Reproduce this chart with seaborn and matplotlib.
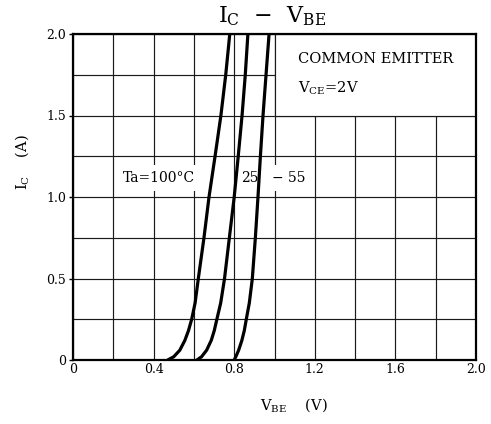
import numpy as np
import pandas as pd
import matplotlib.pyplot as plt
import matplotlib.patches as mpatches
import seaborn as sns

# Data (IC in A, VBE in V)
ic = [0, 0.02, 0.06, 0.12, 0.18, 0.25, 0.35, 0.5, 0.75, 1.0, 1.25, 1.5, 1.75, 2.0]
vbe_100 = [0.47, 0.50, 0.53, 0.555, 0.573, 0.589, 0.606, 0.622, 0.65, 0.675, 0.705, 0.734, 0.758, 0.778]
vbe_25 = [0.615, 0.638, 0.663, 0.686, 0.701, 0.714, 0.733, 0.752, 0.776, 0.80, 0.82, 0.839, 0.855, 0.868]
vbe_m55 = [0.80, 0.808, 0.822, 0.838, 0.85, 0.86, 0.875, 0.89, 0.905, 0.918, 0.93, 0.943, 0.958, 0.973]
temps = ['100', '25', '-55']

x_ticks = [0, 0.4, 0.8, 1.2, 1.6, 2.0]
x_labels = ['0', '0.4', '0.8', '1.2', '1.6', '2.0']
y_ticks = [0, 0.5, 1.0, 1.5, 2.0]
y_labels = ['0', '0.5', '1.0', '1.5', '2.0']

df = pd.DataFrame({
    'VBE': vbe_100 + vbe_25 + vbe_m55,
    'IC': ic * 3,
    'Ta': [t for t in temps for _ in ic],
})

sns.set_theme(style='white')
plt.rcParams['font.family'] = ['DejaVu Serif']
plt.rcParams['mathtext.fontset'] = 'dejavuserif'
plt.rcParams['text.color'] = 'black'

fig = plt.figure(figsize=(4.91, 4.24), dpi=100)
ax = fig.add_axes([73 / 491, 64 / 424, 403 / 491, 326 / 424])

# grid
ax.set_axisbelow(True)
ax.set_xticks(np.arange(0, 2.01, 0.2), minor=True)
ax.set_yticks(np.arange(0, 2.01, 0.25), minor=True)
ax.grid(which='both', color='#1a1a1a', linewidth=0.85)

# blank panel in the upper right
ax.add_patch(mpatches.Rectangle((1.0, 1.5), 1.0, 0.5, facecolor='white',
                                edgecolor='#1a1a1a', linewidth=0.85, zorder=1))

sns.lineplot(data=df, x='VBE', y='IC', hue='Ta', palette=['black'] * 3,
             linewidth=2.3, legend=False, sort=False, ax=ax, zorder=4)

ax.set_xlim(0, 2.0)
ax.set_ylim(0, 2.0)
ax.set_xticks(x_ticks)
ax.set_xticklabels(x_labels)
ax.set_yticks(y_ticks)
ax.set_yticklabels(y_labels)
ax.tick_params(axis='both', which='major', labelsize=9, colors='black', pad=2)
ax.tick_params(axis='y', which='major', length=3, width=1, left=True)
ax.tick_params(axis='x', which='major', length=0)
ax.tick_params(which='minor', length=0)
for s in ax.spines.values():
    s.set_linewidth(1.6)
    s.set_color('black')
ax.set_xlabel('')
ax.set_ylabel('')

box = dict(facecolor='white', edgecolor='none', boxstyle='square,pad=0.45')
ax.text(1.117, 1.822, 'COMMON EMITTER', fontsize=10.5, va='baseline', zorder=3)
ax.text(1.117, 1.638, r'$\mathregular{V_{CE}}$=2V', fontsize=10.5, va='baseline', zorder=3)
ax.text(0.247, 1.092, 'Ta=100°C', fontsize=10, va='baseline', bbox=box, zorder=3)
ax.text(0.834, 1.092, '25', fontsize=10, va='baseline',
        bbox=dict(facecolor='white', edgecolor='none', boxstyle='square,pad=0.2'), zorder=3)
ax.text(0.986, 1.092, '− 55', fontsize=10, va='baseline', bbox=box, zorder=3)

fig.text(272 / 491, 1 - 22 / 424, r'$\mathregular{I_C}$  −  $\mathregular{V_{BE}}$',
         fontsize=16, ha='center', va='baseline')
fig.text(294 / 491, 14 / 424, r'$\mathregular{V_{BE}}$    (V)', fontsize=10.5,
         ha='center', va='baseline')
fig.text(22 / 491, 1 - 162 / 424, r'$\mathregular{I_C}$    (A)', fontsize=10.5,
         ha='center', va='center', rotation=90)

plt.savefig('out.png', dpi=100)
